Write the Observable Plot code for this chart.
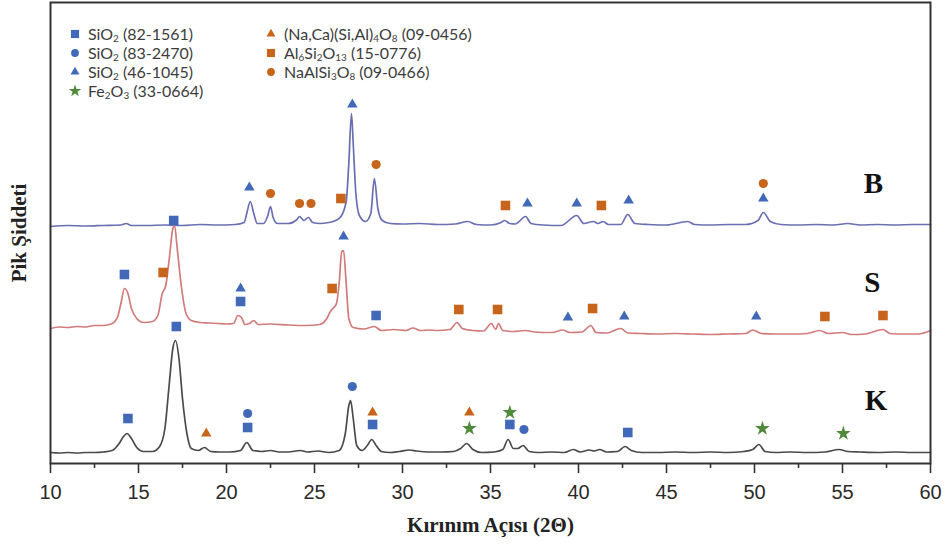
<!DOCTYPE html>
<html>
<head>
<meta charset="utf-8">
<script src="https://cdn.jsdelivr.net/npm/d3@7"></script>
<script src="https://cdn.jsdelivr.net/npm/@observablehq/plot@0.6"></script>
<style>
  html, body { margin: 0; padding: 0; background: #fff; }
  #wrap { position: relative; width: 949px; height: 551px; overflow: hidden; }
  #legend { position: absolute; left: 0; top: 0; font-family: Lato, "Open Sans", sans-serif; font-size: 16px; color: #3c3c3c; }
  .lg { position: absolute; white-space: nowrap; line-height: 18px; }
  .lg svg { position: absolute; left: -19px; top: 3px; }
  sub { font-size: 0.62em; vertical-align: -0.25em; line-height: 0; }
</style>
</head>
<body>
<div id="wrap"><div id="chart"></div><div id="legend"></div></div>
<script>
// ---------------- data ----------------
const majorTicks = [10, 15, 20, 25, 30, 35, 40, 45, 50, 55, 60];
const minorTicks = [12.5, 17.5, 22.5, 27.5, 32.5, 37.5, 42.5, 47.5, 52.5, 57.5];
const sampleNames = ["B", "S", "K"];
const sampleLabelX = [56.75, 56.7, 56.9];
const sampleLabelY = [280, 181, 63];

// traces: [2θ, intensity]
const traceB = [
  [10,237],[11,238],[12,237.5],[13,238],[14,238.5],[14.3,240],[14.6,238],[15.5,238],[16.5,238.5],[17.5,238],
  [18.5,239],[19.5,238.5],[20.5,239],[21.0,241],[21.15,250],[21.35,262],[21.55,250],[21.75,240],[22.1,240],
  [22.35,248],[22.5,257],[22.65,246],[22.9,240],[23.5,240],[24.0,244],[24.15,247],[24.4,243],[24.65,246],
  [24.9,241],[25.3,240],[25.8,241],[26.2,243],[26.5,247],[26.8,262],[26.95,300],[27.1,350],[27.2,320],
  [27.35,270],[27.55,248],[27.9,242],[28.2,250],[28.4,285],[28.6,255],[28.85,243],[29.3,240],[30,239.5],
  [31,240],[32,239],[33,239.5],[33.7,242],[34.2,239],[35,238.5],[35.6,241],[35.8,243],[36.1,240],[36.4,239.5],
  [37.0,247],[37.3,240],[38,238.5],[39,238],[39.9,248],[40.3,240],[40.85,242],[41.1,240],[41.4,242],[41.7,239],
  [42.4,239],[42.8,249],[43.2,240],[44,239],[45,238.5],[46.2,242],[46.6,239],[47.5,238.5],[48.5,239],[49.5,239],
  [50.2,243],[50.5,251],[50.9,242],[51.5,239],[52.5,238.5],[53.5,239],[54.5,238.5],[55.3,240],[56,238.5],
  [57,239],[58,238.5],[59,239],[60,239]
];
const traceS = [
  [10,135],[10.5,136.5],[11,136],[11.5,137],[12,136.5],[12.5,138],[13,138],[13.5,140],[13.8,146],[14.0,160],
  [14.2,175],[14.4,170],[14.6,155],[14.9,145],[15.3,141],[15.8,142],[16.1,148],[16.35,170],[16.55,178],
  [16.75,205],[16.95,235],[17.05,238],[17.2,215],[17.45,175],[17.7,150],[18.0,143],[18.5,141],[19,140.5],
  [19.5,140],[20,139.5],[20.4,140],[20.65,148],[20.85,146],[21.05,139],[21.3,140],[21.55,143],[21.8,139],
  [22.5,139.5],[23.5,138.5],[24.5,138],[25.3,139],[25.7,145],[25.9,152],[26.1,156],[26.25,160],[26.4,180],
  [26.55,212],[26.65,213],[26.8,180],[26.95,145],[27.2,136],[27.8,134.5],[28.4,137],[28.8,133],[29.5,134],
  [30.2,133],[30.6,135.5],[31,133],[31.5,133.5],[32,133],[32.7,134],[33.1,141],[33.4,135],[34,133],[34.6,132.5],
  [35.05,140],[35.3,134],[35.45,140],[35.7,133],[36.3,132],[37,133],[37.5,131.5],[38.5,131],[39.1,133.5],
  [39.5,131],[40.2,131.5],[40.7,138],[41.0,131],[41.6,130.5],[42.4,135],[42.8,130.5],[43.5,130],[44.5,129.5],
  [45.5,130],[46.5,129.5],[47.5,129],[48.5,129.5],[49.5,130],[49.9,133.5],[50.4,130],[51.2,129.5],[52,129.5],
  [53,130],[53.7,133],[54.2,130],[55,131],[55.5,129],[56.3,129.5],[57.3,134],[57.7,130],[58.5,129.5],
  [59.3,129.5],[60,133]
];
const traceK = [
  [10,11],[10.5,10.5],[11,11],[11.5,10.5],[12,11],[12.5,11],[13,11.5],[13.5,13],[13.9,20],[14.15,27],
  [14.35,30],[14.6,25],[14.9,16],[15.3,12],[15.8,12],[16.2,17],[16.5,35],[16.75,80],[16.95,115],[17.1,123],
  [17.3,105],[17.5,65],[17.75,30],[18.0,15],[18.4,13],[18.75,16],[19.1,12],[19.6,11.5],[20.2,11.5],[20.8,13],
  [21.15,21],[21.5,13],[22,12],[22.5,13],[23,11.5],[23.5,11.5],[24.2,13],[24.6,11.5],[25.2,12.5],[25.8,11],
  [26.4,13],[26.75,30],[26.95,58],[27.05,63],[27.2,45],[27.4,18],[27.7,13],[28.0,18],[28.25,24],[28.5,18],
  [28.8,12],[29.3,11],[29.8,12],[30.4,13.5],[30.8,12.5],[31.4,11.5],[32.2,11.5],[32.9,12],[33.3,15],
  [33.65,20],[34.0,14],[34.5,11],[35.2,11.5],[35.7,14],[36.0,24],[36.3,15],[36.55,15],[36.85,18],[37.2,12],
  [37.7,11],[38.5,11.5],[39.2,11],[39.7,14],[40.1,11.5],[40.6,13.5],[40.9,12.5],[41.2,14],[41.6,11.5],
  [42.2,12],[42.65,17],[43.0,13],[43.6,11],[44.5,11],[45.5,11.5],[46.5,11],[47.5,11.5],[48.5,11],[49.4,12],
  [49.9,14],[50.25,19],[50.6,12],[51.2,11],[52,11.5],[53,11],[54,11.5],[54.8,14],[55.3,12],[56,11.5],
  [57,11],[58,11.5],[59,11],[60,11]
];

// phase markers: [2θ, intensity]
const sio2_82_1561 = [[14.2,189],[17.0,243],[20.8,162],[28.5,148],[14.4,45],[17.15,137],[21.2,36],[28.3,39],[36.1,39],[42.8,31]];
const sio2_83_2470 = [[21.2,50],[27.15,77],[36.9,34]];
const sio2_46_1045 = [[21.3,276],[27.15,359],[37.1,260],[39.9,260],[42.85,263],[50.5,265],
                      [20.8,175],[26.65,227],[39.4,146],[42.6,147],[50.1,147]];
const fe2o3_33_0664 = [[33.8,35],[36.1,51],[50.45,35],[55.05,30]];
const naca_09_0456 = [[18.85,30],[28.3,51],[33.8,51]];
const al6si2o13_15_0776 = [[26.5,265],[35.85,258],[41.3,258],[16.4,191],[26.0,175],[33.2,154],[35.4,154],[40.8,155],[54.0,147],[57.3,148]];
const naalsi3o8_09_0466 = [[22.5,270],[24.15,260],[24.8,260],[28.5,299],[50.5,280]];

const legendLabels = [
  "SiO<sub>2</sub> (82-1561)", "SiO<sub>2</sub> (83-2470)", "SiO<sub>2</sub> (46-1045)", "Fe<sub>2</sub>O<sub>3</sub> (33-0664)",
  "(Na,Ca)(Si,Al)<sub>4</sub>O<sub>8</sub> (09-0456)", "Al<sub>6</sub>Si<sub>2</sub>O<sub>13</sub> (15-0776)", "NaAlSi<sub>3</sub>O<sub>8</sub> (09-0466)"
];

// ---------------- styles ----------------
const BLUE = "#4169b8", ORANGE = "#c8651c", GREEN = "#4f8a3a";
const phases = [
  {data: sio2_82_1561, symbol: "square", fill: BLUE, r: 5.4},
  {data: sio2_83_2470, symbol: "circle", fill: BLUE, r: 4.6},
  {data: sio2_46_1045, symbol: "triangle", fill: BLUE, r: 3.9},
  {data: fe2o3_33_0664, symbol: "star", fill: GREEN, r: 4.6},
  {data: naca_09_0456, symbol: "triangle", fill: ORANGE, r: 3.9},
  {data: al6si2o13_15_0776, symbol: "square", fill: ORANGE, r: 5.4},
  {data: naalsi3o8_09_0466, symbol: "circle", fill: ORANGE, r: 4.6}
];
const traces = [
  {data: traceB, stroke: "#6a6fb2"},
  {data: traceS, stroke: "#d17c7b"},
  {data: traceK, stroke: "#4a4a4a"}
];
const labels = sampleNames.map((n, i) => ({name: n, x: sampleLabelX[i], y: sampleLabelY[i]}));

const chart = Plot.plot({
  width: 949,
  height: 551,
  marginLeft: 50,
  marginRight: 19,
  marginTop: 2,
  marginBottom: 88,
  x: {domain: [10, 60]},
  y: {domain: [0, 461], axis: null},
  style: {background: "#fff"},
  marks: [
    ...traces.map(t => Plot.line(t.data, {x: d => d[0], y: d => d[1], stroke: t.stroke, strokeWidth: 1.7, curve: "monotone-x"})),
    ...phases.map(p => Plot.dot(p.data, {x: d => d[0], y: d => d[1], symbol: p.symbol, fill: p.fill, r: p.r, stroke: "none"})),
    Plot.text(labels, {x: "x", y: "y", text: "name", fontFamily: "Liberation Serif", fontWeight: "bold", fontSize: 29, fill: "#111", textAnchor: "middle"}),
    Plot.frame({stroke: "#333", strokeWidth: 2}),
    Plot.axisX({ticks: majorTicks, tickSize: 10, tickPadding: 11, tickFormat: d => String(d), label: null,
      fontSize: 20, fontFamily: "Liberation Sans", fill: "#2a2a2a", stroke: "#333", strokeWidth: 1.6}),
    Plot.axisX({ticks: minorTicks, tickSize: 5, tickFormat: () => "", label: null, stroke: "#333", strokeWidth: 1.6}),
    Plot.text(["Kırınım Açısı (2Θ)"], {frameAnchor: "bottom", dy: 68, fontFamily: "Liberation Serif", fontWeight: "bold", fontSize: 21, fill: "#222"}),
    Plot.text(["Pik Şiddeti"], {frameAnchor: "left", textAnchor: "middle", dx: -31, rotate: -90, fontFamily: "Liberation Serif", fontWeight: "bold", fontSize: 21, fill: "#222"})
  ]
});
document.getElementById("chart").appendChild(chart);

// ---------------- legend (HTML) ----------------
const legendPos = [
  {left: 88, top: 34}, {left: 88, top: 53}, {left: 88, top: 72}, {left: 88, top: 91},
  {left: 284, top: 34}, {left: 284, top: 53}, {left: 284, top: 72}
];
const leg = document.getElementById("legend");
const symMap = {square: d3.symbolSquare, circle: d3.symbolCircle, triangle: d3.symbolTriangle, star: d3.symbolStar};
legendLabels.forEach((lab, i) => {
  const p = phases[i];
  const div = document.createElement("div");
  div.className = "lg";
  div.style.left = legendPos[i].left + "px";
  div.style.top = (legendPos[i].top - 9) + "px";
  const size = Math.PI * (p.r * 0.85) ** 2;
  const path = d3.symbol(symMap[p.symbol], size)();
  div.innerHTML = `<svg width="12" height="12" viewBox="-6 -6 12 12"><path d="${path}" fill="${p.fill}"/></svg>${lab}`;
  leg.appendChild(div);
});
</script>
</body>
</html>
